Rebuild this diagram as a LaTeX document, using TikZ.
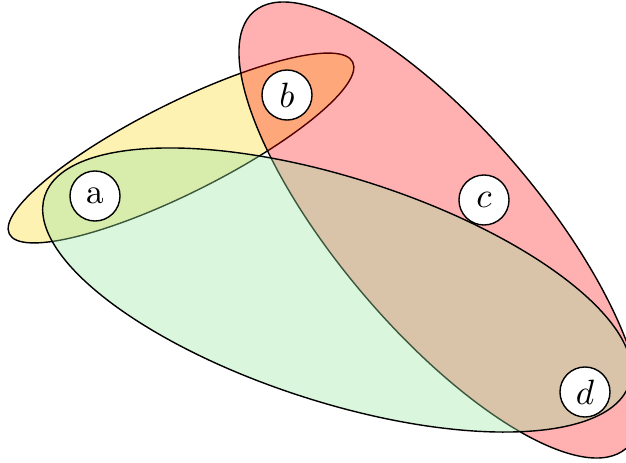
\documentclass[tikz,border=0pt]{standalone}
\usepackage{amsmath}
\usepackage{tikz}
\definecolor{edgeyellow}{RGB}{250,222,62}
\definecolor{edgegreen}{RGB}{156,231,161}

\begin{document}
\begin{tikzpicture}[x=0.01cm,y=-0.01cm,
		vertex/.style={circle,draw,fill=white,minimum size=0.5cm,inner sep=0pt}]
				\clip (0,0) rectangle (626,463);
				% hyperedges
				\filldraw[fill=edgeyellow,fill opacity=0.4,shift={(181,148)},rotate=26.6] (0,0) ellipse (192 and 45);
				\filldraw[fill=red,fill opacity=0.31,shift={(440,230)},rotate=-49.6] (0,0) ellipse (287 and 100);
				\filldraw[fill=edgegreen,fill opacity=0.375,shift={(337,290)},rotate=-17.8] (0,0) ellipse (307 and 112);
				% vertices
				\foreach\n/\x/\y/\t in {a/95/196/a, b/287/95/$b$, c/484/200/$c$, d/585/392/$d$}
				{\node[vertex] (\n) at (\x,\y) {\t};}
\end{tikzpicture}
\end{document}
